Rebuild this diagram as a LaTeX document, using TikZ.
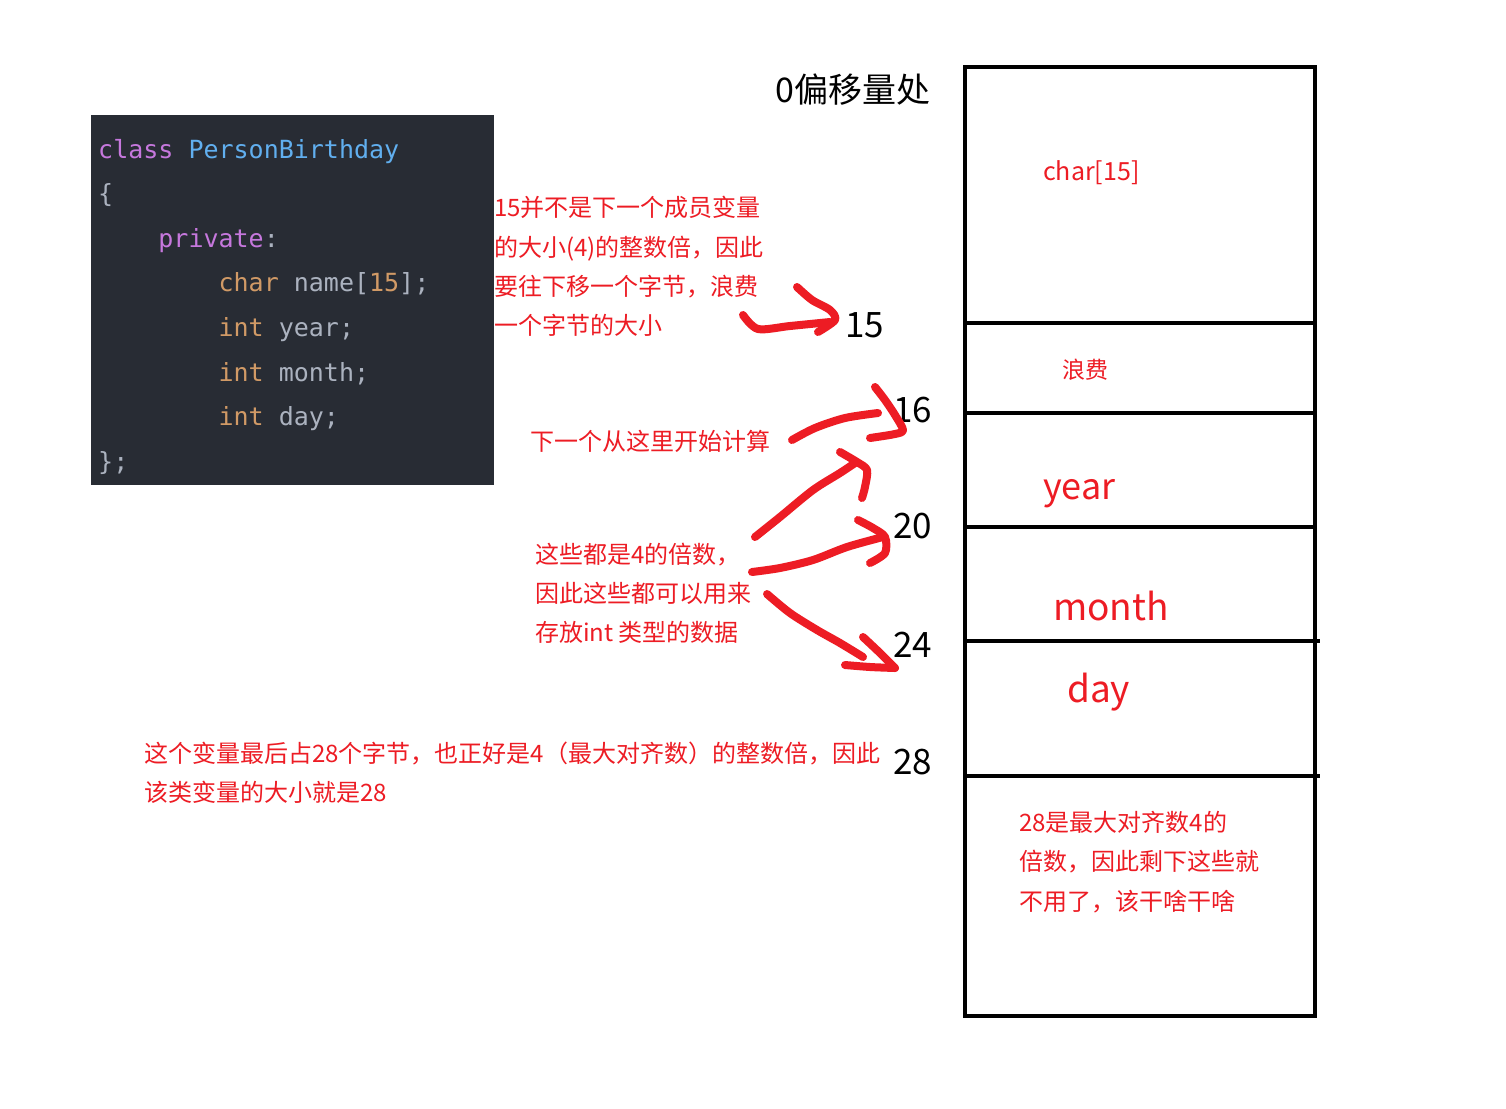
\documentclass[tikz,border=0pt]{standalone}
\usepackage{fontspec}
\setmainfont{Noto Sans CJK SC}
\newfontfamily\cjkf{Noto Sans CJK SC}
\newfontfamily\codefont{DejaVu Sans Mono}
\definecolor{notered}{HTML}{ED1C24}
\definecolor{codebg}{HTML}{282C34}
\definecolor{kwpurple}{HTML}{C678DD}
\definecolor{typeblue}{HTML}{61AFEF}
\definecolor{typeorange}{HTML}{D19A66}
\definecolor{codegray}{HTML}{ABB2BF}
\tikzset{
  codeline/.style={anchor=base west, inner sep=0pt, font=\codefont\fontsize{25}{25}\selectfont, text=codegray},
  note/.style={anchor=base west, inner sep=0pt, font=\cjkf\fontsize{24}{24}\selectfont, text=notered},
  offset/.style={anchor=base west, inner sep=0pt, font=\cjkf\fontsize{35}{35}\selectfont, text=black},
  boxtext/.style={anchor=base west, inner sep=0pt, font=\cjkf\fontsize{#1}{#1}\selectfont, text=notered},
  memline/.style={line width=4pt, draw=black},
  sketch/.style={draw=notered, line width=8pt, line cap=round, line join=round}
}
\begin{document}
\begin{tikzpicture}[x=1pt,y=-1pt]
\useasboundingbox (0,0) rectangle (1506,1108);
\fill[white] (0,0) rectangle (1506,1108);

% code box
\fill[codebg] (91,115) rectangle (494,485);
\node[codeline] (c1) at (98,158) {\textcolor{kwpurple}{class} \textcolor{typeblue}{PersonBirthday}};
\node[codeline] (c2) at (98,202.6) {\{};
\node[codeline] (c3) at (98,247.2) {\hphantom{xxxx}\textcolor{kwpurple}{private}:};
\node[codeline] (c4) at (98,291.8) {\hphantom{xxxxxxxx}\textcolor{typeorange}{char} name[\textcolor{typeorange}{15}];};
\node[codeline] (c5) at (98,336.4) {\hphantom{xxxxxxxx}\textcolor{typeorange}{int} year;};
\node[codeline] (c6) at (98,381) {\hphantom{xxxxxxxx}\textcolor{typeorange}{int} month;};
\node[codeline] (c7) at (98,425.6) {\hphantom{xxxxxxxx}\textcolor{typeorange}{int} day;};
\node[codeline] (c8) at (98,470.2) {\};};

% memory box
\draw[memline] (965,67) rectangle (1315,1016);
\draw[memline] (965,323) -- (1315,323);
\draw[memline] (965,413) -- (1315,413);
\draw[memline] (965,527) -- (1315,527);
\draw[memline] (965,641) -- (1320,641);
\draw[memline] (965,776) -- (1320,776);

\node[boxtext=25] (m1) at (1043,180) {char[15]};
\node[boxtext=23] (m2) at (1062,378) {浪费};
\node[boxtext=36] (m3) at (1043,499) {year};
\node[boxtext=37] (m4) at (1053,620) {month};
\node[boxtext=37] (m5) at (1067,702) {day};
\node[boxtext=24] (m6a) at (1019,831) {28是最大对齐数4的};
\node[boxtext=24] (m6b) at (1019,870) {倍数，因此剩下这些就};
\node[boxtext=24] (m6c) at (1019,910) {不用了，该干啥干啥};

% offsets
\node[anchor=base west, inner sep=0pt, font=\cjkf\fontsize{34}{34}\selectfont] (o0) at (775,102) {0偏移量处};
\node[offset] (o15) at (845,337) {15};
\node[offset] (o16) at (893,422) {16};
\node[offset] (o20) at (893,538) {20};
\node[offset] (o24) at (893,657) {24};
\node[offset] (o28) at (893,774) {28};

% notes
\node[note] (a1) at (494,216) {15并不是下一个成员变量};
\node[note] (a2) at (494,256) {的大小(4)的整数倍，因此};
\node[note] (a3) at (494,295) {要往下移一个字节，浪费};
\node[note] (a4) at (494,334) {一个字节的大小};
\node[note] (b1) at (530,450) {下一个从这里开始计算};
\node[note] (n1) at (535,563) {这些都是4的倍数，};
\node[note] (n2) at (535,602) {因此这些都可以用来};
\node[note] (n3) at (535,641) {存放int 类型的数据};
\node[note] (d1) at (144,762) {这个变量最后占28个字节，也正好是4（最大对齐数）的整数倍，因此};
\node[note] (d2) at (144,801) {该类变量的大小就是28};

% hand-drawn arrows
% to 15
\draw[sketch] plot[smooth] coordinates {(743,315) (758,329) (790,326) (830,322)};
\draw[sketch] plot[smooth] coordinates {(797,287) (812,300) (830,310) (835,320) (818,332)};
% to 16
\draw[sketch] plot[smooth] coordinates {(792,440) (815,428) (845,418) (878,413)};
\draw[sketch] plot[smooth] coordinates {(875,387) (885,400) (895,415) (903,430) (895,434) (870,438)};
% up arrow
\draw[sketch] plot[smooth] coordinates {(755,537) (780,517) (813,490) (840,473) (855,463)};
\draw[sketch] plot[smooth] coordinates {(840,452) (857,462) (867,470) (865,487) (862,498)};
% to 20
\draw[sketch] plot[smooth] coordinates {(752,572) (780,568) (813,560) (847,547) (883,537)};
\draw[sketch] plot[smooth] coordinates {(858,520) (873,528) (885,537) (885,553) (870,563)};
% to 24
\draw[sketch] plot[smooth] coordinates {(767,594) (790,613) (817,630) (840,643) (863,657)};
\draw[sketch] plot[smooth] coordinates {(863,637) (880,653) (895,668)};
\draw[sketch] plot[smooth] coordinates {(845,665) (870,667) (895,668)};
\end{tikzpicture}
\end{document}
